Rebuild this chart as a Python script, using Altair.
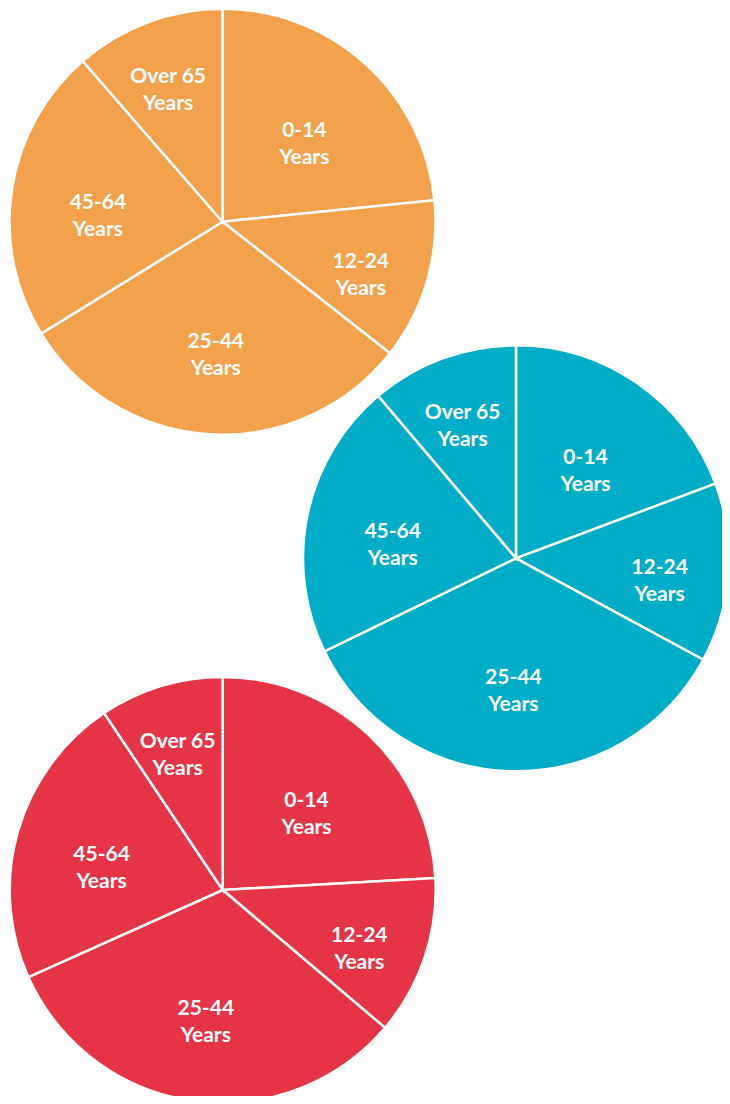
import altair as alt
import pandas as pd

# Age groups (clockwise from 12 o'clock)
categories = ["0-14", "12-24", "25-44", "45-64", "Over 65"]
labels = ["0-14\nYears", "12-24\nYears", "25-44\nYears", "45-64\nYears", "Over 65\nYears"]

# Shares (%)
orange_values = [23.4, 12.2, 30.6, 22.4, 11.4]
teal_values = [19.3, 13.6, 34.9, 21.0, 11.2]
red_values = [24.1, 12.1, 32.1, 22.3, 9.4]

# ---- layout / style (not data) ----
pie_colors = ["#F2A24C", "#00ADC7", "#E43446"]
pie_values = [orange_values, teal_values, red_values]
pie_centres = [(214.5, 213.7), (508.0, 550.3), (214.7, 882.0)]
RADIUS = 213
LABEL_RADII = [122, 144, 120, 126, 155]


def make_pie(values, colour, centre, name):
    df = pd.DataFrame({
        "pie": name,
        "idx": list(range(len(categories))),
        "category": categories,
        "label": labels,
        "value": values,
        "lr": LABEL_RADII,
    })
    pos = dict(x=alt.value(centre[0]), y=alt.value(centre[1]))
    arcs = alt.Chart(df).mark_arc(
        radius=RADIUS, stroke="white", strokeWidth=2.5
    ).encode(
        theta=alt.Theta("value:Q", stack=True),
        order=alt.Order("idx:Q", sort="ascending"),
        color=alt.value(colour),
        **pos,
    )
    text = (
        alt.Chart(df)
        .transform_window(
            cum="sum(value)", sort=[alt.SortField("idx")], frame=[None, 0]
        )
        .transform_joinaggregate(total="sum(value)")
        .transform_calculate(
            mid="(datum.cum - datum.value / 2) / datum.total * 2 * PI"
        )
        .mark_text(
            font="Lato",
            fontWeight="bold",
            fontSize=21,
            lineHeight=27,
            lineBreak="\n",
            color="white",
            align="center",
            baseline="middle",
        )
        .encode(
            theta=alt.Theta("mid:Q", scale=None, stack=None),
            radius=alt.Radius("lr:Q", scale=None),
            text="label:N",
            **pos,
        )
    )
    return alt.layer(arcs, text).resolve_scale(theta="independent")


layers = [
    make_pie(v, c, p, n)
    for v, c, p, n in zip(pie_values, pie_colors, pie_centres, ["orange", "teal", "red"])
]

chart = (
    alt.layer(*layers)
    .resolve_scale(theta="independent")
    .properties(
        width=714,
        height=1088,
        autosize=alt.AutoSizeParams(type="none"),
        padding=0,
        background="white",
    )
    .configure_view(stroke=None)
)

chart.save("out.html", embed_options={"renderer": "svg", "actions": False})
